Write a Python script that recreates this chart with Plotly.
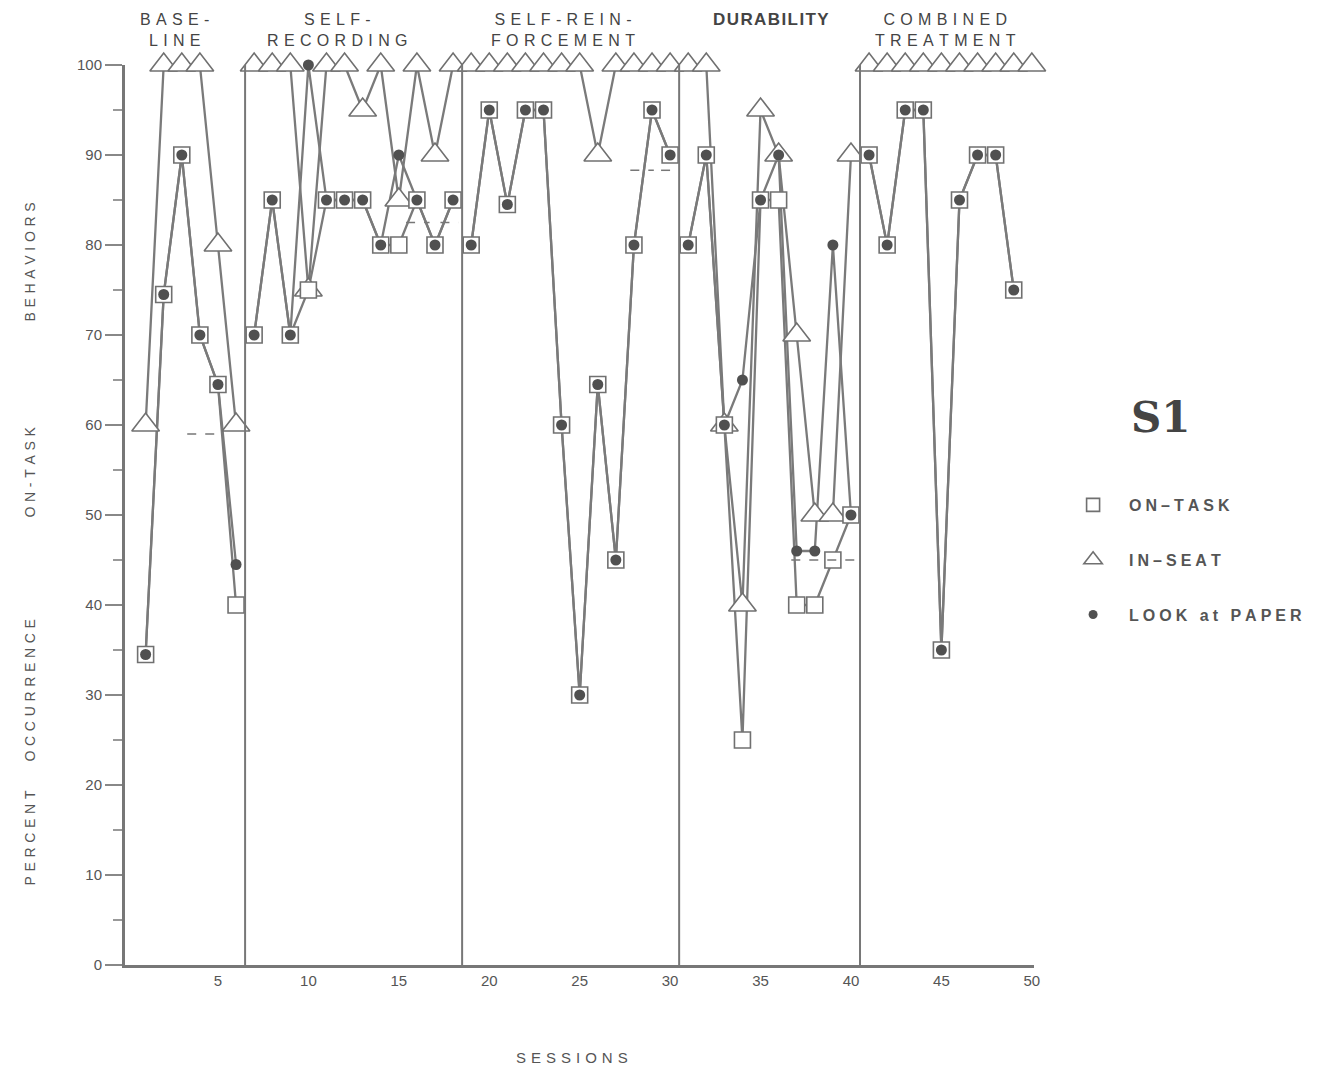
import plotly.graph_objects as go

# ---------------- data ----------------
SESSIONS = list(range(1, 51))
PHASE_OF_SESSION = [0]*6 + [1]*12 + [2]*12 + [3]*10 + [4]*10
PHASE_CHANGES = [6.5, 18.5, 30.5, 40.5]
PHASE_LABELS = ["BASE-<br>LINE", "SELF-<br>RECORDING", "SELF-REIN-<br>FORCEMENT", "DURABILITY", "COMBINED<br>TREATMENT"]
PHASE_LABEL_X = [2.6, 11.6, 24.1, 35.6, 45.2]

ON_TASK = [34.5, 74.5, 90, 70, 64.5, 40,
           70, 85, 70, 75, 85, 85, 85, 80, 80, 85, 80, 85,
           80, 95, 84.5, 95, 95, 60, 30, 64.5, 45, 80, 95, 90,
           80, 90, 60, 25, 85, 85, 40, 40, 45, 50,
           90, 80, 95, 95, 35, 85, 90, 90, 75, None]

IN_SEAT = [60, 100, 100, 100, 80, 60,
           100, 100, 100, 75, 100, 100, 95, 100, 85, 100, 90, 100,
           100, 100, 100, 100, 100, 100, 100, 90, 100, 100, 100, 100,
           100, 100, 60, 40, 95, 90, 70, 50, 50, 90,
           100, 100, 100, 100, 100, 100, 100, 100, 100, 100]

LOOK_AT_PAPER = [34.5, 74.5, 90, 70, 64.5, 44.5,
                 70, 85, 70, 100, 85, 85, 85, 80, 90, 85, 80, 85,
                 80, 95, 84.5, 95, 95, 60, 30, 64.5, 45, 80, 95, 90,
                 80, 90, 60, 65, 85, 90, 46, 46, 80, 50,
                 90, 80, 95, 95, 35, 85, 90, 90, 75, None]

# short dashed level marks (session from, session to, percent)
LEVEL_MARKS = [(3.3, 4.8, 59), (15.4, 16.7, 82.5), (17.3, 18.3, 82.5),
               (27.8, 29.1, 88.3), (29.5, 30.4, 88.3), (36.7, 40.5, 45)]

Y_TICKS = list(range(0, 101, 10))
X_TICKS = list(range(5, 51, 5))

LINE_C = "#7a7a7a"
TEXT_C = "#555555"
FONT = "Liberation Sans"


def spaced(s, sep="\u2004"):
    return "<br>".join(sep.join(line) for line in s.split("<br>"))


def split_phases(values):
    xs, ys = [], []
    prev = None
    for s, p, v in zip(SESSIONS, PHASE_OF_SESSION, values):
        if prev is not None and p != prev:
            xs.append(None); ys.append(None)
        xs.append(s); ys.append(v)
        prev = p
    return xs, ys


fig = go.Figure()

series = [
    ("IN–SEAT", IN_SEAT, dict(symbol="triangle-up", size=24, color="white",
                              line=dict(color="#707070", width=1.6))),
    ("ON–TASK", ON_TASK, dict(symbol="square", size=16, color="white",
                              line=dict(color="#707070", width=1.6))),
    ("LOOK at PAPER", LOOK_AT_PAPER, dict(symbol="circle", size=11, color="#505050",
                                          line=dict(color="#505050", width=0))),
]

for name, vals, mk in series:
    xs, ys = split_phases(vals)
    fig.add_trace(go.Scatter(x=xs, y=ys, mode="lines", showlegend=False,
                             line=dict(color=LINE_C, width=2.3), cliponaxis=False,
                             hoverinfo="skip"))
for name, vals, mk in series:
    xs, ys = split_phases(vals)
    fig.add_trace(go.Scatter(x=xs, y=ys, mode="markers", showlegend=False,
                             marker=mk, cliponaxis=False, name=name))

# legend entries
legend_sizes = {"triangle-up": 17, "square": 13, "circle": 9}
for i, (name, vals, mk) in enumerate([series[1], series[0], series[2]]):
    lm = dict(mk)
    lm["size"] = legend_sizes[mk["symbol"]]
    fig.add_trace(go.Scatter(x=[None], y=[None], mode="markers", marker=lm,
                             name="\u2003" + spaced(name, "\u2005"),
                             legendgroup=f"g{i}", showlegend=True))

# phase change lines
for xc in PHASE_CHANGES:
    fig.add_shape(type="line", x0=xc, x1=xc, y0=0, y1=100, xref="x", yref="y",
                  line=dict(color="#777777", width=2))

# dashed level marks
for x0, x1, yv in LEVEL_MARKS:
    fig.add_shape(type="line", x0=x0, x1=x1, y0=yv, y1=yv, xref="x", yref="y",
                  line=dict(color="#777777", width=1.5, dash="dash"))

# phase labels
for lab, xl in zip(PHASE_LABELS, PHASE_LABEL_X):
    two = "<br>" in lab
    if two:
        fig.add_annotation(x=xl, xref="x", y=1.039, yref="paper",
                           text=spaced(lab), showarrow=False,
                           font=dict(family=FONT, size=16, color="#444444"),
                           yanchor="middle", align="center")
    else:
        fig.add_annotation(x=xl, xref="x", y=1.05, yref="paper",
                           text=spaced(lab, "\u200a"), showarrow=False,
                           font=dict(family=FONT, size=17, color="#444444", weight="bold"),
                           yanchor="middle", align="center")

# y-axis title words
for word, ypx in [("PERCENT", 838), ("OCCURRENCE", 690), ("ON-TASK", 472), ("BEHAVIORS", 262)]:
    fig.add_annotation(x=-0.104, xref="paper", y=(965 - ypx) / 900, yref="paper",
                       text=spaced(word), textangle=-90, showarrow=False,
                       font=dict(family=FONT, size=14, color=TEXT_C),
                       xanchor="center", yanchor="middle")

# x-axis title
fig.add_annotation(x=24.6, xref="x", y=-0.103, yref="paper", text=spaced("SESSIONS"),
                   showarrow=False, font=dict(family=FONT, size=15, color=TEXT_C),
                   xanchor="center", yanchor="middle")

# subject label
fig.add_annotation(x=1.14, xref="paper", y=0.608, yref="paper", text="<b>S1</b>",
                   showarrow=False, font=dict(family="DejaVu Serif", size=42, color="#444444"),
                   xanchor="center", yanchor="middle")

fig.update_layout(
    width=1312, height=1067,
    margin=dict(l=117, r=286, t=57, b=110),
    paper_bgcolor="white", plot_bgcolor="white",
    showlegend=True,
    legend=dict(x=1.043, xanchor="left", y=0.53, yanchor="top",
                font=dict(family=FONT, size=16, color="#555555", weight="bold"),
                tracegroupgap=31, traceorder="grouped", bgcolor="rgba(0,0,0,0)"),
    xaxis=dict(range=[-0.14, 50.12], tickvals=X_TICKS, ticks="", showgrid=False,
               zeroline=False, showline=True, linecolor="#777777", linewidth=3,
               tickfont=dict(family=FONT, size=15, color=TEXT_C)),
    yaxis=dict(range=[0, 100], tickvals=Y_TICKS, ticks="outside", ticklen=17,
               tickwidth=2, tickcolor="#888888", showgrid=False, zeroline=False,
               showline=True, linecolor="#777777", linewidth=3,
               minor=dict(dtick=5, ticks="outside", ticklen=9, tickwidth=1.5, tickcolor="#999999"),
               tickfont=dict(family=FONT, size=15, color=TEXT_C)),
)

fig.write_html("out.html")
